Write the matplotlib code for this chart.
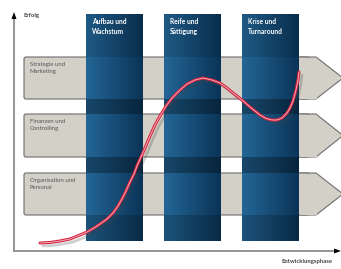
import numpy as np
import matplotlib.pyplot as plt
from matplotlib.patches import Polygon, FancyBboxPatch

# phases (blue columns) and fields (grey arrows)
phases = ["Aufbau und\nWachstum", "Reife und\nSättigung", "Krise und\nTurnaround"]
fields = ["Strategie und\nMarketing", "Finanzen und\nControlling", "Organisation und\nPersonal"]
y_label = "Erfolg"
x_label = "Entwicklungsphase"

# success curve (pixel units)
curve_x = [40, 50, 60, 70, 80, 87, 94, 100, 107, 113, 118, 122, 126, 130, 134, 137,
           141, 145, 150, 155, 160, 166, 173, 180, 187, 195, 203, 212, 220, 227, 233,
           242, 250, 260, 266, 272, 277, 282, 287, 290, 293, 296, 298, 299]
curve_y = [243, 242.5, 241, 239, 235, 232, 228, 224, 219, 213, 206, 199, 191, 182, 174,
           166, 157, 148, 136, 125, 116, 106, 97, 90, 84, 80, 78, 80, 83, 88, 93,
           100, 107, 115, 118.5, 120, 120, 118, 113, 108, 101, 90, 80, 72]

W, H = 341, 269
fig = plt.figure(figsize=(W / 100, H / 100), dpi=100)
ax = fig.add_axes([0, 0, 1, 1])
ax.set_xlim(0, W)
ax.set_ylim(H, 0)
ax.axis("off")
plt.rcParams["font.family"] = ["Lato", "DejaVu Sans"]

# grey arrow bands
bands = [(57, 99), (114, 157), (173, 215)]
for (top, bot), name in zip(bands, fields):
    mid = (top + bot) / 2
    ax.add_patch(Polygon([(300, top), (316, top), (343, mid), (316, bot), (300, bot)],
                         closed=True, fc="#d3d0c7", ec="#6d6d6d", lw=0.8, zorder=1))
    ax.add_patch(FancyBboxPatch((24, top), 285, bot - top,
                                boxstyle="round,pad=0,rounding_size=2",
                                fc="#d3d0c7", ec="#6d6d6d", lw=0.8, zorder=1.1))
    ax.add_patch(plt.Rectangle((300, top + 0.5), 17, bot - top - 1, fc="#d3d0c7",
                               ec="none", zorder=1.2))
    ax.text(30, top + 5, name, fontsize=4.3, color="#555555", va="top", ha="left",
            linespacing=1.5, zorder=2)

# blue columns with gradient
cols = [86, 164, 242]
cw = 57
c_top, c_bot = 14, 241
left = np.array([0x21, 0x60, 0x8e]) / 255
right = np.array([0x0a, 0x31, 0x52]) / 255
rows = np.arange(c_top, c_bot)
fac = np.full(len(rows), 0.93)
for top, bot in bands:
    fac[(rows >= top) & (rows < bot)] = 1.06
for a, b in [(99, 114), (157, 173)]:
    fac[(rows >= a) & (rows < b)] = 0.74
fac[rows >= 215] = 0.86
t = np.linspace(0, 1, 60)
grad = left[None, :] * (1 - t[:, None]) + right[None, :] * t[:, None]
img = np.clip(fac[:, None, None] * grad[None, :, :], 0, 1)
for x0, name in zip(cols, phases):
    ax.imshow(img, extent=(x0, x0 + cw, c_bot, c_top), aspect="auto",
              interpolation="bilinear", zorder=3)
    ax.text(x0 + 6, c_top + 4, name, fontsize=4.8, color="white", fontweight="bold",
            va="top", ha="left", linespacing=1.5, zorder=4)

# curve with shadow
cx = np.array(curve_x)
cy = np.array(curve_y)
ax.plot(cx + 3, cy + 3, color="#444444", lw=2, alpha=0.25, zorder=5,
        solid_capstyle="round", solid_joinstyle="round")
ax.plot(cx, cy, color="#d3263f", lw=2.2, zorder=6, solid_capstyle="round",
        solid_joinstyle="round")
ax.plot(cx, cy, color="#f6b8c2", lw=0.6, zorder=7, solid_joinstyle="round")

# axes with arrows
ax.plot([14, 14], [251, 18], color="#8c8c8c", lw=1.3, zorder=2)
ax.plot([14, 336], [251, 251], color="#8c8c8c", lw=1.3, zorder=2)
ax.add_patch(Polygon([(11.5, 19), (16.5, 19), (14, 12)], closed=True, fc="black",
                     ec="none", zorder=3))
ax.add_patch(Polygon([(334, 248.5), (334, 253.5), (341, 251)], closed=True,
                     fc="black", ec="none", zorder=3))
ax.text(24, 16, y_label, fontsize=4.3, color="#444444", fontweight="bold",
        va="center", ha="left")
ax.text(281, 262, x_label, fontsize=4.3, color="#444444", fontweight="bold",
        va="center", ha="left")

fig.savefig("out.png", dpi=100)
